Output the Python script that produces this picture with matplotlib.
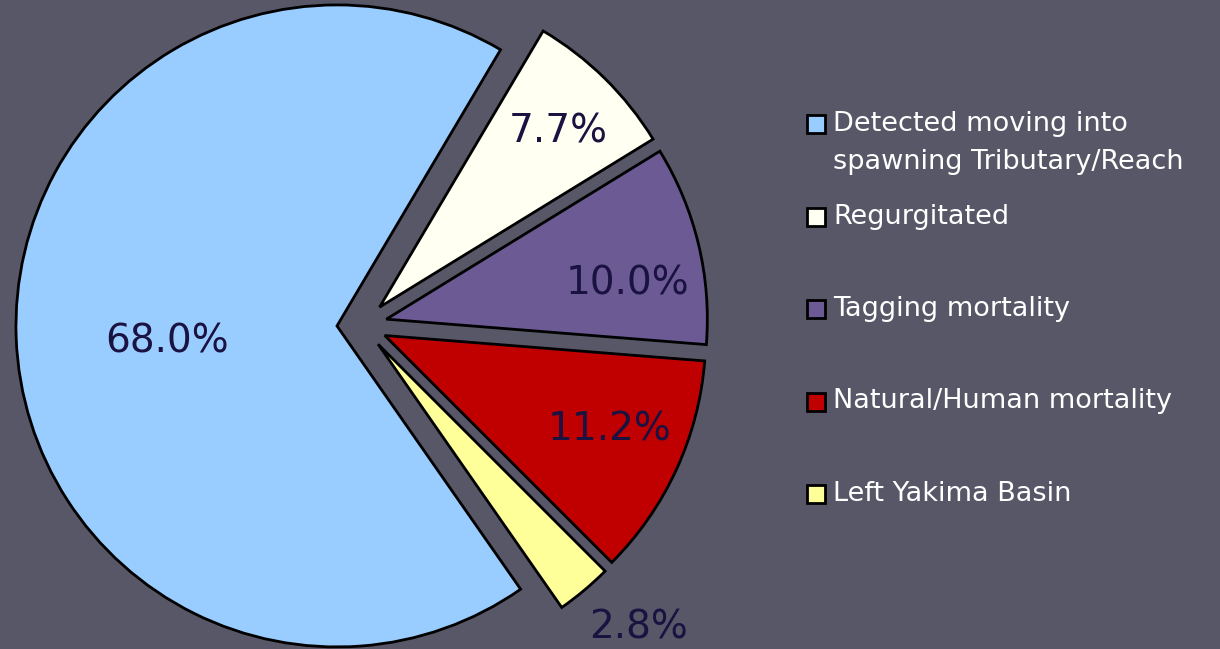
import numpy as np
import matplotlib

matplotlib.use("Agg")
import matplotlib.pyplot as plt
from matplotlib.patches import Rectangle

# --- data ---
categories = [
    "Detected moving into\nspawning Tributary/Reach",
    "Regurgitated",
    "Tagging mortality",
    "Natural/Human mortality",
    "Left Yakima Basin",
]
values = [68.0, 7.7, 10.0, 11.2, 2.8]
colors = ["#99CCFF", "#FFFFF2", "#6B5A94", "#C00000", "#FFFF99"]

# label placement per slice: (distance as fraction of radius, angle offset in deg)
label_dist = [0.53, 0.78, 0.76, 0.76, 1.20]
label_dang = [3.0, -1.0, -5.0, 2.0, 2.6]

BG = "#575767"
W, H = 1220, 649
R = 321.0  # pie radius in pixels
cx, cy = 362.0, 324.0  # pie centre in pixels (y from bottom)

fig = plt.figure(figsize=(W / 100, H / 100), dpi=100)
fig.patch.set_facecolor(BG)
ax = fig.add_axes([0, 0, 1, 1])
ax.set_facecolor(BG)

wedges, _ = ax.pie(
    values,
    colors=colors,
    startangle=-55.1,
    counterclock=False,
    explode=[0.078] * len(values),
    radius=1.0,
    center=(0, 0),
    wedgeprops=dict(edgecolor="black", linewidth=2.0),
)

# percentage labels, positioned from each wedge's own geometry
for w, v, d, da in zip(wedges, values, label_dist, label_dang):
    mid = np.deg2rad((w.theta1 + w.theta2) / 2 + da)
    x0, y0 = w.center
    ax.text(
        x0 + d * np.cos(mid),
        y0 + d * np.sin(mid),
        f"{v:.1f}%",
        ha="center",
        va="center",
        fontsize=28,
        color="#1A1240",
    )

ax.set_xlim(-cx / R, (W - cx) / R)
ax.set_ylim(-cy / R, (H - cy) / R)
ax.set_aspect("equal")
ax.axis("off")

# --- legend drawn by hand (box aligned to first text line) ---
lx, ly0, step, box = 807 / W, 1 - 124 / H, 92.5 / H, 18
for i, (lab, col) in enumerate(zip(categories, colors)):
    y = ly0 - i * step
    fig.patches.append(
        Rectangle(
            (lx, y - box / 2 / H),
            box / W,
            box / H,
            transform=fig.transFigure,
            facecolor=col,
            edgecolor="black",
            linewidth=2.0,
            figure=fig,
        )
    )
    lines = lab.split("\n")
    for j, line in enumerate(lines):
        fig.text(
            lx + 26 / W,
            y - j * 38 / H,
            line,
            ha="left",
            va="center",
            fontsize=19.5,
            color="white",
        )

fig.savefig("out.png", dpi=100, facecolor=BG)
